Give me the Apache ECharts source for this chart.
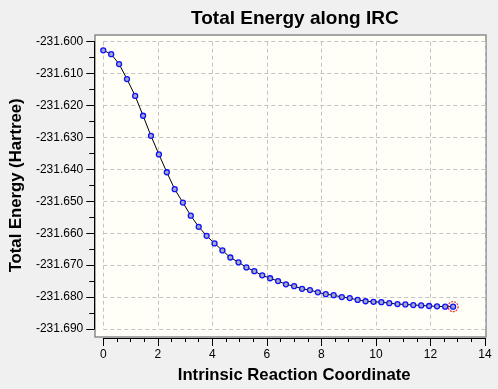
<!DOCTYPE html>
<html>
<head>
<meta charset="utf-8">
<script src="https://cdn.jsdelivr.net/npm/echarts@6/dist/echarts.min.js"></script>
<style>
  html, body { margin: 0; padding: 0; background: #f0f0f0; }
  #main { width: 498px; height: 389px; }
</style>
</head>
<body>
<div id="main"></div>
<script>
// IRC path
var ircCoord = [0, 0.29, 0.58, 0.87, 1.17, 1.46, 1.75, 2.04, 2.33, 2.62, 2.92, 3.21, 3.50, 3.79, 4.08,
  4.37, 4.66, 4.96, 5.25, 5.54, 5.83, 6.12, 6.41, 6.70, 7.00, 7.29, 7.58, 7.87, 8.16, 8.45,
  8.75, 9.04, 9.33, 9.62, 9.91, 10.20, 10.49, 10.79, 11.08, 11.37, 11.66, 11.95, 12.24, 12.54, 12.83];
var energy = [-231.6027, -231.6039, -231.6070, -231.6117, -231.6170, -231.6232, -231.6295, -231.6353,
  -231.6409, -231.6462, -231.6504, -231.6545, -231.6580, -231.6608, -231.6632, -231.6654, -231.6676,
  -231.6691, -231.6707, -231.6719, -231.6732, -231.6741, -231.6750, -231.6760, -231.6766, -231.6774,
  -231.6778, -231.6785, -231.6791, -231.6794, -231.6800, -231.6803, -231.6809, -231.6813, -231.6815,
  -231.6816, -231.6819, -231.6822, -231.6823, -231.6825, -231.6826, -231.6828, -231.6829, -231.6830,
  -231.6830];
var xTicks = { min: 0, max: 14, step: 2 };
var yTicks = { min: -231.69, max: -231.60, step: 0.01 };

var font = 'Liberation Sans, Arial, sans-serif';
var chart = echarts.init(document.getElementById('main'));

var pts = ircCoord.map(function (x, i) { return [x, energy[i]]; });
var last = pts[pts.length - 1];

var option = {
  backgroundColor: '#f0f0f0',
  animation: false,
  title: {
    text: 'Total Energy along IRC',
    left: 186, top: 4,
    textStyle: { fontFamily: font, fontSize: 19, fontWeight: 'bold', color: '#000' }
  },
  grid: [
    { left: 95, right: 12, top: 35, bottom: 52, show: true,
      backgroundColor: '#fffff7', borderColor: '#8a8a8a', borderWidth: 1.5 },
    { left: 99.3, right: 13, top: 41.7, bottom: 57.5 }
  ],
  xAxis: {
    type: 'value', gridIndex: 1,
    min: xTicks.min, max: xTicks.max, interval: xTicks.step,
    offset: 9,
    name: 'Intrinsic Reaction Coordinate',
    nameLocation: 'middle', nameGap: 29,
    nameTextStyle: { fontFamily: font, fontSize: 16.7, fontWeight: 'bold', color: '#000' },
    axisLine: { show: true, onZero: false, lineStyle: { color: '#000', width: 1 } },
    axisTick: { show: true, length: 8, lineStyle: { color: '#000' } },
    minorTick: { show: true, splitNumber: 4, length: 4, lineStyle: { color: '#000' } },
    axisLabel: { margin: 11, fontFamily: font, fontSize: 12, color: '#000' },
    splitLine: { show: true, lineStyle: { color: '#c4c4c4', type: [4, 3] } }
  },
  yAxis: {
    type: 'value', gridIndex: 1,
    min: yTicks.min, max: yTicks.max, interval: yTicks.step,
    offset: 9,
    name: 'Total Energy (Hartree)',
    nameLocation: 'middle', nameGap: 63,
    nameTextStyle: { fontFamily: font, fontSize: 16.7, fontWeight: 'bold', color: '#000' },
    axisLine: { show: true, onZero: false, lineStyle: { color: '#000', width: 1 } },
    axisTick: { show: true, length: 8, lineStyle: { color: '#000' } },
    minorTick: { show: true, splitNumber: 2, length: 5, lineStyle: { color: '#000' } },
    axisLabel: {
      margin: 11, fontFamily: font, fontSize: 12, color: '#000',
      formatter: function (v) { return v.toFixed(3); }
    },
    splitLine: { show: true, lineStyle: { color: '#c4c4c4', type: [4, 3] } }
  },
  series: [
    {
      type: 'line',
      xAxisIndex: 0, yAxisIndex: 0,
      data: pts,
      symbol: 'circle', symbolSize: 5,
      lineStyle: { color: '#000', width: 1 },
      itemStyle: { color: '#a4abbd', borderColor: '#1010ff', borderWidth: 1.3 }
    },
    {
      type: 'scatter',
      data: [last],
      symbol: 'circle', symbolSize: 10,
      itemStyle: { color: 'rgba(0,0,0,0)', borderColor: '#e00000', borderWidth: 1.2, borderType: [2, 1] },
      z: 5
    }
  ]
};
chart.setOption(option);
</script>
</body>
</html>
